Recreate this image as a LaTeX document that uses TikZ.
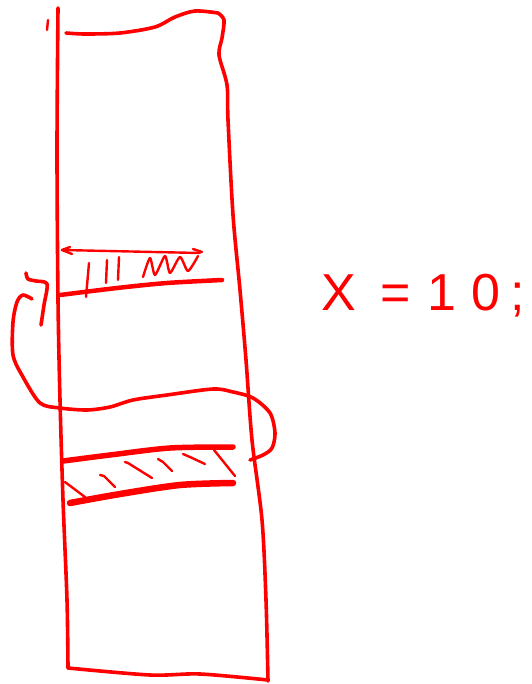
\documentclass[tikz,border=0pt]{standalone}
\usepackage{fontspec}
\setsansfont{Liberation Sans}
\definecolor{inkred}{RGB}{255,0,0}

\begin{document}
\begin{tikzpicture}[
  x=1pt,
  y=-1pt,
  line cap=round,
  line join=round,
  pen/.style={draw=inkred,line width=3.6pt},
  heavy/.style={draw=inkred,line width=6.5pt},
  fine/.style={draw=inkred,line width=2.4pt}
]
  \useasboundingbox (0,0) rectangle (531,684);

  % Полоса: левая, нижняя и правая стороны
  \draw[pen]
    plot[smooth,tension=0.5] coordinates {
      (58,8) (57,150) (58,300) (60,400) (63,500) (67,600) (68,668)};

  \draw[pen]
    plot[smooth,tension=0.5] coordinates {
      (68,668) (150,675) (200,674) (268,680)};

  \draw[pen]
    plot[smooth,tension=0.5] coordinates {
      (268,681) (266,600) (262,520) (252,440) (246,360)
      (240,290) (233,215) (228,120) (227,85) (219,55)
      (222,38) (224,20) (218,13)};

  % Верхний край
  \draw[pen]
    plot[smooth,tension=0.5] coordinates {
      (218,13) (195,11) (175,17) (155,27) (120,33) (85,34) (66,33)};

  \draw[fine] (48,20) -- (47,30);

  % Первая заштрихованная полоса
  \draw[fine] (62,250) -- (200,253);
  \draw[fine] (70,247) -- (62,250) -- (72,254);
  \draw[fine] (193,249) -- (202,252);
  \draw[heavy,line width=4.5pt]
    plot[smooth,tension=0.5] coordinates {
      (60,295) (117,288) (167,283) (222,280)};

  \draw[fine] (89,263) -- (86,297);
  \draw[fine] (107,260) -- (106,283);
  \draw[fine] (119,257) -- (118,280);
  \draw[fine]
    plot[smooth,tension=0.4] coordinates {
      (143,277) (150,258) (155,275) (165,256) (170,273)
      (180,257) (188,271) (198,256)};

  % Петля с левой стороны
  \draw[pen]
    plot[smooth,tension=0.5] coordinates {
      (26,273) (28,279) (36,281) (47,284) (44,305) (41,325)};

  \draw[pen]
    plot[smooth,tension=0.5] coordinates {
      (32,299) (23,295) (17,302) (13,322) (13,355) (23,377)
      (40,403) (60,408) (87,410) (110,407) (133,400) (167,395)
      (213,389) (233,392) (253,398) (270,413) (275,433)
      (272,448) (263,455) (250,460)};

  % Вторая заштрихованная полоса
  \draw[heavy,line width=5.5pt]
    plot[smooth,tension=0.5] coordinates {
      (63,461) (110,455) (170,448) (233,447)};

  \draw[heavy]
    plot[smooth,tension=0.5] coordinates {
      (70,503) (120,494) (180,485) (233,483)};

  \draw[fine] (65,482) -- (85,497);
  \draw[fine] (100,475) -- (104,476) -- (115,487);
  \draw[fine] (125,462) -- (128,463) -- (152,478);
  \draw[fine] (158,459) -- (163,462) -- (172,471);
  \draw[fine] (183,454) -- (190,457) -- (205,464);
  \draw[fine] (214,450) -- (235,476);

  % Подпись
  \node[text=inkred,anchor=west,font=\sffamily\fontsize{52}{52}\selectfont]
    (eq) at (318,296)
    {X\hspace{24pt}=\hspace{17pt}1\hspace{15pt}0\hspace{10pt};};
\end{tikzpicture}
\end{document}
